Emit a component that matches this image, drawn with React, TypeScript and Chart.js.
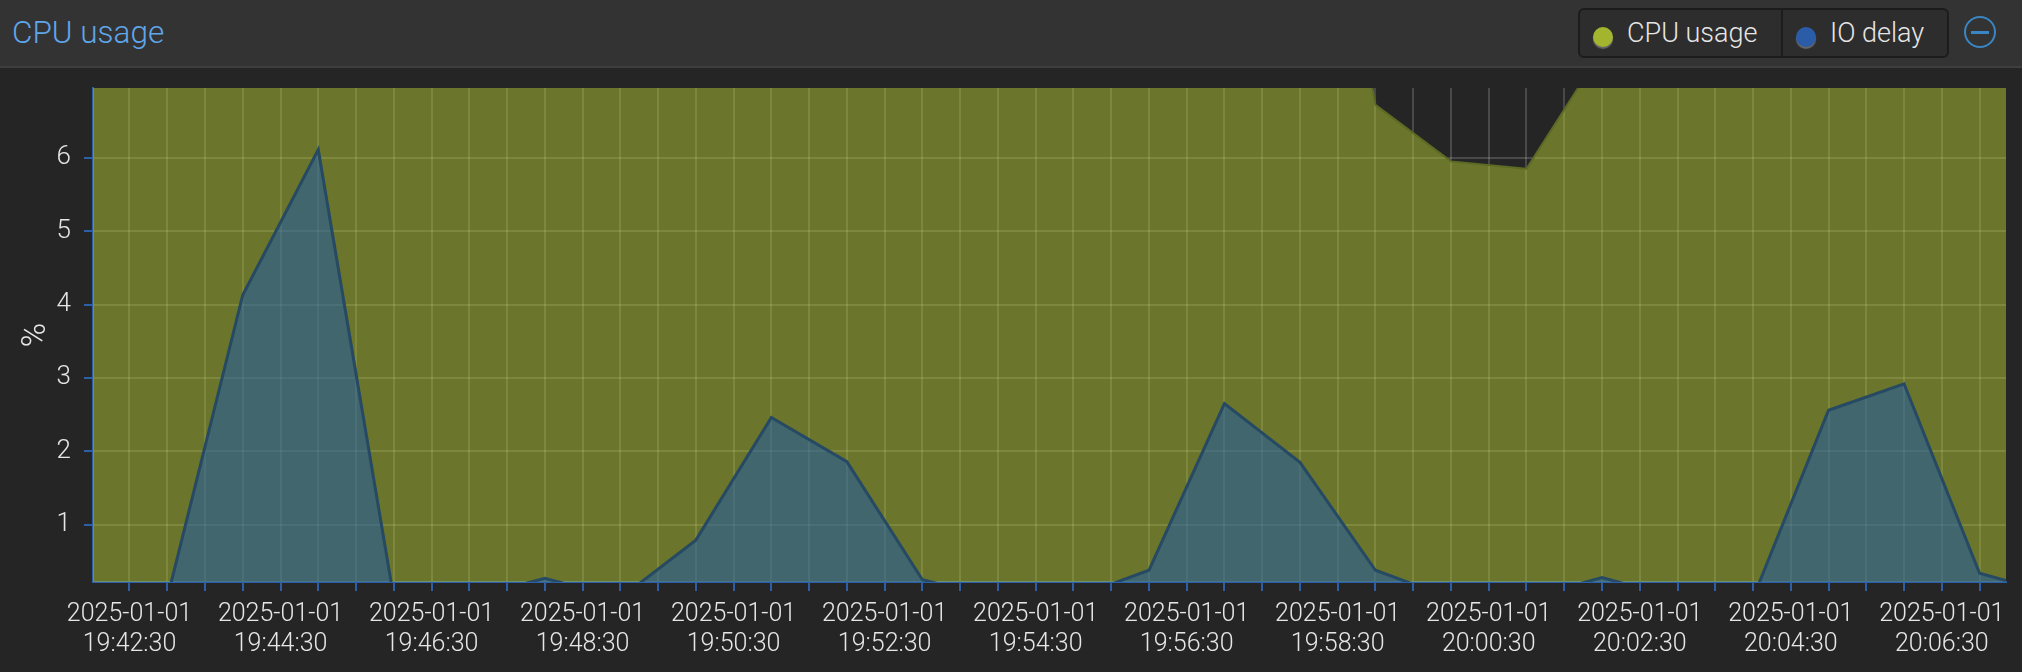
import React, { useEffect, useRef } from 'react';
import { Chart, registerables } from 'chart.js';

Chart.register(...registerables);

// ---- data ----
const dateLabel = '2025-01-01';
const baseTime = '19:42:00';
const sampleTimes = [
  '19:42:01', '19:43:00', '19:44:00', '19:45:00', '19:46:00', '19:47:00', '19:48:00',
  '19:49:00', '19:50:00', '19:51:00', '19:52:00', '19:53:00', '19:54:00', '19:55:00',
  '19:56:00', '19:57:00', '19:58:00', '19:59:00', '20:00:00', '20:01:00', '20:02:00',
  '20:03:00', '20:04:00', '20:05:00', '20:06:00', '20:07:00', '20:07:21',
];
const cpuUsage = [
  9.8, 10.4, 11.6, 12.3, 10.9, 9.7, 9.2,
  9.0, 9.6, 10.8, 10.2, 9.4, 8.9, 8.7,
  9.1, 10.6, 12.4, 6.72, 5.95, 5.85, 7.46,
  8.4, 8.8, 10.1, 10.7, 9.3, 8.9,
];
const ioDelay = [
  0, 0, 4.13, 6.11, 0, 0, 0.27,
  0, 0.79, 2.46, 1.86, 0.25, 0, 0,
  0.38, 2.65, 1.85, 0.38, 0, 0, 0.28,
  0, 0, 2.56, 2.92, 0.34, 0.24,
];
const tickLabels = [
  '19:42:30', '19:44:30', '19:46:30', '19:48:30', '19:50:30', '19:52:30', '19:54:30',
  '19:56:30', '19:58:30', '20:00:30', '20:02:30', '20:04:30', '20:06:30',
];
const yTickValues = [1, 2, 3, 4, 5, 6];
const xRange = ['19:42:01', '20:07:21'];
const yRange = [0.22, 6.95];

const toSec = (t: string) => {
  const [h, m, s] = t.split(':').map(Number);
  const [bh, bm, bs] = baseTime.split(':').map(Number);
  return h * 3600 + m * 60 + s - (bh * 3600 + bm * 60 + bs);
};

const BLUE = '#2c5fa8';
const TEXT = '#e6e6e6';
const GRID = 'rgba(255,255,255,0.17)';
const FONT = "'Roboto', 'Liberation Sans', sans-serif";

export default function App() {
  const ref = useRef<HTMLCanvasElement>(null);

  useEffect(() => {
    const tickMap = new Map<number, string>();
    tickLabels.forEach((l) => tickMap.set(toSec(l), l));
    const chart = new Chart(ref.current!, {
      type: 'line',
      data: {
        datasets: [
          {
            label: 'IO delay',
            data: sampleTimes.map((t, i) => ({ x: toSec(t), y: ioDelay[i] })),
            borderColor: '#264a63',
            borderWidth: 3,
            backgroundColor: 'rgba(30,90,170,0.53)',
            fill: 'origin',
            pointRadius: 0,
            tension: 0,
          },
          {
            label: 'CPU usage',
            data: sampleTimes.map((t, i) => ({ x: toSec(t), y: cpuUsage[i] })),
            borderColor: '#5b6a24',
            borderWidth: 2,
            backgroundColor: 'rgba(178,198,50,0.5)',
            fill: 'origin',
            pointRadius: 0,
            tension: 0,
          },
        ],
      },
      options: {
        animation: false,
        responsive: false,
        maintainAspectRatio: false,
        layout: { padding: { top: 20, right: 16, left: 0, bottom: 0 } },
        plugins: { legend: { display: false }, tooltip: { enabled: false } },
        scales: {
          x: {
            type: 'linear',
            min: toSec(xRange[0]),
            max: toSec(xRange[1]),
            afterFit: (s: any) => { s.height = 90; s.paddingLeft = 0; s.paddingRight = 0; },
            grid: { color: GRID, tickColor: BLUE, tickLength: 9, lineWidth: 2 },
            border: { color: BLUE, width: 2 },
            ticks: {
              stepSize: 30,
              includeBounds: false,
              autoSkip: false,
              maxRotation: 0,
              minRotation: 0,
              padding: 9,
              color: TEXT,
              font: { family: FONT, size: 25, weight: '300' },
              callback: (v: any) => {
                const l = tickMap.get(Number(v));
                return l ? [dateLabel, l] : '';
              },
            },
          },
          y: {
            type: 'linear',
            min: yRange[0],
            max: yRange[1],
            afterFit: (s: any) => { s.width = 93; s.paddingTop = 0; s.paddingBottom = 0; },
            grid: { color: GRID, tickColor: BLUE, tickLength: 9, lineWidth: 2 },
            border: { color: BLUE, width: 2 },
            title: {
              display: true,
              text: '%',
              color: TEXT,
              font: { family: FONT, size: 33, weight: '300' },
              padding: { top: 17, bottom: 0 },
            },
            ticks: {
              stepSize: 1,
              includeBounds: false,
              padding: 13,
              color: TEXT,
              font: { family: FONT, size: 26, weight: '300' },
              callback: (v: any) => (yTickValues.includes(Number(v)) ? String(v) : ''),
            },
          },
        },
      },
    });
    return () => chart.destroy();
  }, []);

  const dot = (color: string, cx: number) => (
    <div
      style={{
        position: 'absolute', left: cx - 10, top: 27, width: 20, height: 20, borderRadius: '50%',
        background: color, boxShadow: '0 2px 1px rgba(110,110,110,0.9)',
      }}
    />
  );

  return (
    <div style={{ position: 'fixed', left: 0, top: 0, width: 2022, height: 672, background: '#252525', overflow: 'hidden', fontFamily: FONT }}>
      <div style={{ position: 'absolute', left: 0, top: 0, width: 2022, height: 66, background: '#333333', borderBottom: '2px solid #3e3e3e' }}>
        <div style={{ position: 'absolute', left: 12, top: 17, fontSize: 31.5, lineHeight: '31px', fontWeight: 300, color: '#5fa6ea', whiteSpace: 'nowrap' }}>CPU usage</div>
        <div style={{ position: 'absolute', left: 1578, top: 8, width: 371, height: 50, boxSizing: 'border-box', border: '2px solid #1c1c1c', borderRadius: 6, background: '#2d2d2d' }} />
        <div style={{ position: 'absolute', left: 1781, top: 10, width: 2, height: 46, background: '#1c1c1c' }} />
        {dot('#a3b52f', 1603)}
        <div style={{ position: 'absolute', left: 1627, top: 18, fontSize: 27, lineHeight: '30px', fontWeight: 300, color: TEXT, whiteSpace: 'nowrap' }}>CPU usage</div>
        {dot('#2b5ca8', 1806)}
        <div style={{ position: 'absolute', left: 1830, top: 18, fontSize: 27, lineHeight: '30px', fontWeight: 300, color: TEXT, whiteSpace: 'nowrap' }}>IO delay</div>
        <div style={{ position: 'absolute', left: 1964, top: 16, width: 32, height: 32, boxSizing: 'border-box', borderRadius: '50%', border: '2.5px solid #3a86c4' }} />
        <div style={{ position: 'absolute', left: 1971, top: 31, width: 18, height: 2.5, background: '#3a86c4' }} />
      </div>
      <canvas ref={ref} width={2022} height={604} style={{ position: 'absolute', left: 0, top: 68, width: 2022, height: 604, display: 'block' }} />
    </div>
  );
}
